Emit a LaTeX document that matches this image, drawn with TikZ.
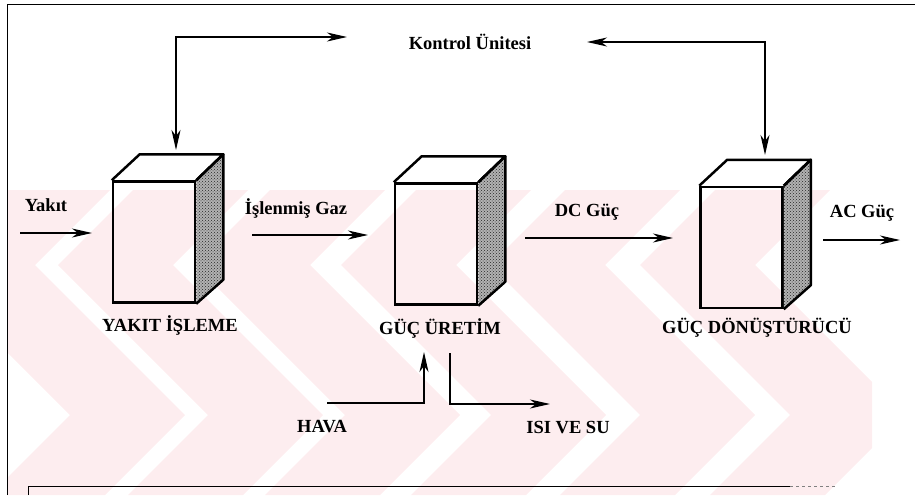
\documentclass[tikz,border=0pt]{standalone}
\usepackage{fontspec}
\setmainfont{Liberation Serif}
\usetikzlibrary{arrows.meta,patterns,calc}
\definecolor{wmpink}{RGB}{253,237,239}
\newcommand\cubeparts[1]{%
  \path[fill=black!30] (#1.north east) -- ($(#1.north east)+(27,-26)$) -- ($(#1.south east)+(27,-24)$) -- (#1.south east) -- cycle;
  \path[pattern=crosshatch dots, pattern color=black!85] (#1.north east) -- ($(#1.north east)+(27,-26)$) -- ($(#1.south east)+(27,-24)$) -- (#1.south east) -- cycle;
  \draw[edge] (#1.north east) -- ($(#1.north east)+(27,-26)$) -- ($(#1.south east)+(27,-24)$) -- (#1.south east);
  \draw[edge] (#1.north west) -- ($(#1.north west)+(28,-26)$) -- ($(#1.north east)+(27,-26)$) -- (#1.north east);
}
\begin{document}
\begin{tikzpicture}[x=1pt,y=-1pt,
  lbl/.style={font=\bfseries\fontsize{18.5}{21}\selectfont, inner sep=0pt},
  edge/.style={line width=2.5pt, line join=round},
  boxfront/.style={draw, line width=2.5pt, minimum width=82pt, minimum height=121pt, inner sep=0pt},
  flow/.style={line width=1.3pt, -{Stealth[length=20pt,width=9pt,inset=6pt]}},
  ctrl/.style={line width=1.3pt, {Stealth[length=20pt,width=9pt,inset=6pt]}-{Stealth[length=20pt,width=9pt,inset=6pt]}},
  frame/.style={line width=1pt},
  wm/.style={fill=wmpink}]
\useasboundingbox (0,0) rectangle (915,495);
% watermark stripes (background)
\begin{scope}
\clip (8,190) rectangle (872,495);
\foreach \L in {70,208,345,491,640,790}{
  \fill[wm] (\L-75,190) -- (\L-150,265) -- (\L,415) -- (\L-80,495) -- (\L+35,495) -- (\L+115,415) -- (\L-35,265) -- (\L+40,190) -- cycle;
}
\end{scope}
% frame
\draw[frame] (7,495) -- (7,5) -- (915,5);
\draw[frame] (28,495) -- (28,486) -- (790,486);
\draw[frame, dashed, black!50] (790,486) -- (835,486);
% boxes
\node[boxfront] (b1) at (154,242) {};
\node[boxfront] (b2) at (436,244) {};
\node[boxfront] (b3) at (741.5,247.5) {};
\cubeparts{b1}
\cubeparts{b2}
\cubeparts{b3}
% labels
\node[lbl] (l1) at (170,325) {YAKIT İŞLEME};
\node[lbl] (l2) at (440,328) {GÜÇ ÜRETİM};
\node[lbl] (l3) at (757,328) {GÜÇ DÖNÜŞTÜRÜCÜ};
\node[lbl] (ku) at (470,42) {Kontrol Ünitesi};
\node[lbl] (yk) at (46,205) {Yakıt};
\node[lbl] (ig) at (296,208) {İşlenmiş Gaz};
\node[lbl] (dc) at (587,212) {DC Güç};
\node[lbl] (ac) at (862,213) {AC Güç};
\node[lbl] (hv) at (322,427) {HAVA};
\node[lbl] (is) at (568,428) {ISI VE SU};
% coordinates
\coordinate (c1a) at (347,37);
\coordinate (c1b) at (176,150);
\coordinate (c3a) at (587,42);
\coordinate (c3b) at (765,155);
\coordinate (y0) at (20,233);   \coordinate (y1) at (92,233);
\coordinate (g0) at (252,235);  \coordinate (g1) at (368,235);
\coordinate (d0) at (525,238);  \coordinate (d1) at (673,238);
\coordinate (a0) at (823,240);  \coordinate (a1) at (900,240);
\coordinate (h0) at (327,403);  \coordinate (h1) at (424,352);
\coordinate (s0) at (450,353);  \coordinate (s1) at (550,404);
% connectors
\draw[ctrl] (c1a) -| (c1b);
\draw[ctrl] (c3a) -| (c3b);
\draw[flow] (y0) -- (y1);
\draw[flow] (g0) -- (g1);
\draw[flow] (d0) -- (d1);
\draw[flow] (a0) -- (a1);
\draw[flow] (h0) -| (h1);
\draw[flow] (s0) |- (s1);
\end{tikzpicture}
\end{document}
